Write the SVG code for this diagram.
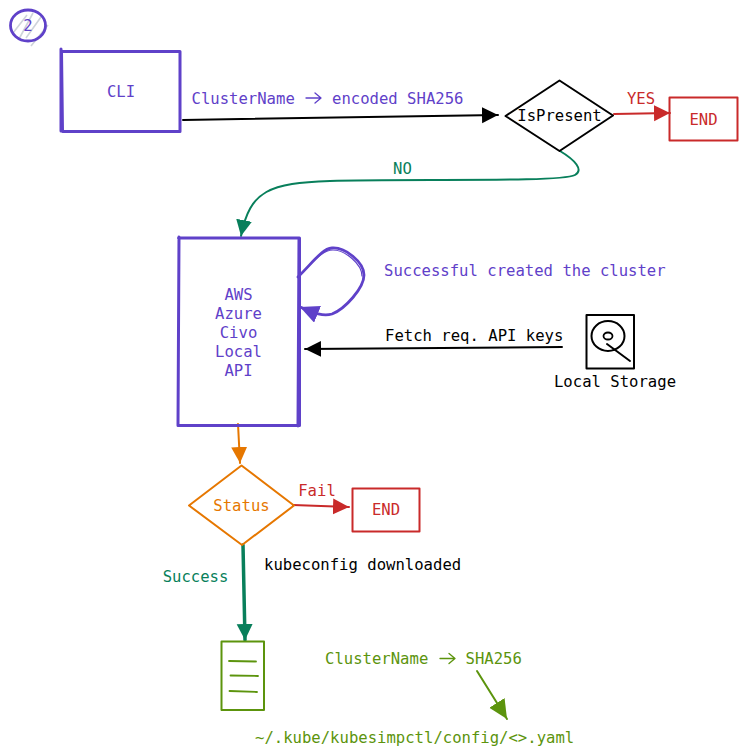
<svg xmlns="http://www.w3.org/2000/svg" width="746" height="756" viewBox="0 0 746 756">
<style>
text{font-family:"DejaVu Sans Mono","Liberation Mono",monospace;font-size:15.6px;text-anchor:middle}
.s{text-anchor:start}
.p{fill:#5f41c9}.k{fill:#000}.r{fill:#c92a2a}.o{fill:#e67700}.g{fill:#087f5b}.l{fill:#5c940d}
.sp,.sk,.sr,.so,.sg,.sl{fill:none;stroke-linecap:round;stroke-linejoin:round}
.sp{stroke:#5f41c9}.sk{stroke:#000}.sr{stroke:#c92a2a}.so{stroke:#e67700}.sg{stroke:#087f5b}.sl{stroke:#5c940d}
</style>
<defs>
<marker id="ak" markerUnits="userSpaceOnUse" markerWidth="20" markerHeight="20" refX="16" refY="8" orient="auto"><path d="M0 0L16 8L0 16Z" fill="#000"/></marker>
<marker id="ar" markerUnits="userSpaceOnUse" markerWidth="20" markerHeight="20" refX="16" refY="8" orient="auto"><path d="M0 0L16 8L0 16Z" fill="#c92a2a"/></marker>
<marker id="ao" markerUnits="userSpaceOnUse" markerWidth="20" markerHeight="20" refX="16" refY="8" orient="auto"><path d="M0 0L16 8L0 16Z" fill="#e67700"/></marker>
<marker id="ag" markerUnits="userSpaceOnUse" markerWidth="20" markerHeight="20" refX="16" refY="8" orient="auto"><path d="M0 0L16 8L0 16Z" fill="#087f5b"/></marker>
<marker id="al" markerUnits="userSpaceOnUse" markerWidth="22" markerHeight="22" refX="19" refY="9" orient="auto"><path d="M0 0L19 9L0 18Z" fill="#5c940d"/></marker>
<marker id="ap" markerUnits="userSpaceOnUse" markerWidth="22" markerHeight="22" refX="19" refY="9" orient="auto"><path d="M0 0L19 9L0 18Z" fill="#5f41c9"/></marker>
</defs>
<g id="step-badge">
<path d="M13 33L27 15M19 39L33 13M26 38L41 17M31 46L48 25" fill="none" stroke="#ced4da" stroke-width="1.600"/>
<ellipse cx="28" cy="25.500" rx="17.500" ry="15.500" class="sp" stroke-width="2.800"/>
<text x="28" y="31" class="p">2</text>
</g>
<g id="connectors">
<path d="M183 120L498 115" class="sk" stroke-width="2" marker-end="url(#ak)"/>
<path d="M614 114L670 113" class="sr" stroke-width="2" marker-end="url(#ar)"/>
<path d="M560 151C575 160 584 170 575 175C560 183 400 178 330 181C270 183 250 190 241 236" class="sg" stroke-width="2" marker-end="url(#ag)"/>
<path d="M298 277C315 260 322 249 332 248C345 247 364 262 364 275C364 288 345 309 332 314C322 317 312 312 300 307" class="sp" stroke-width="2.800" marker-end="url(#ap)"/>
<path d="M299 276C316 258 324 250 333 250C345 250 362 264 362 276" class="sp" stroke-width="1.200"/>
<path d="M562 347L305 349" class="sk" stroke-width="2" marker-end="url(#ak)"/>
<path d="M238 424L240 463" class="so" stroke-width="2" marker-end="url(#ao)"/>
<path d="M293 505L349 507" class="sr" stroke-width="2" marker-end="url(#ar)"/>
<path d="M243 545L245 640" class="sg" stroke-width="3.500" marker-end="url(#ag)"/>
<path d="M477 671L507 719" class="sl" stroke-width="2" marker-end="url(#al)"/>
</g>
<g id="cli">
<path d="M61.500 51.500H180V131.500H62.500ZM61 49V131" class="sp" stroke-width="3"/>
<text x="121" y="97" class="p">CLI</text>
</g>
<g id="cluster-name-label">
<text x="191.500" y="104" class="p s">ClusterName</text>
<path d="M306 98H320M315 93L321 98L315 103" class="sp" stroke-width="1.300"/>
<text x="332" y="104" class="p s">encoded SHA256</text>
</g>
<g id="is-present">
<path d="M559.500 80.500L613 115.500L559.500 151L505.500 116Z" class="sk" stroke-width="2"/>
<text x="559.500" y="121" class="k">IsPresent</text>
</g>
<g id="yes-label"><text x="641" y="104" class="r">YES</text></g>
<g id="end-top">
<rect x="669.500" y="97.500" width="68" height="43" class="sr" stroke-width="2"/>
<text x="703.500" y="125" class="r">END</text>
</g>
<g id="no-label"><text x="402.500" y="174" class="g">NO</text></g>
<g id="providers">
<path d="M178.500 238H299.500V425.500H178L179 237M299 238L298 426" class="sp" stroke-width="3"/>
<text class="p"><tspan x="238.500" y="300">AWS</tspan><tspan x="238.500" y="319">Azure</tspan><tspan x="238.500" y="338">Civo</tspan><tspan x="238.500" y="357">Local</tspan><tspan x="238.500" y="376">API</tspan></text>
</g>
<g id="created-label"><text x="384" y="276" class="p s">Successful created the cluster</text></g>
<g id="fetch-label"><text x="385" y="341" class="k s">Fetch req. API keys</text></g>
<g id="local-storage">
<rect x="586.500" y="315" width="47.500" height="53.500" class="sk" stroke-width="2"/>
<ellipse cx="608" cy="336" rx="16.500" ry="15" class="sk" stroke-width="2"/>
<ellipse cx="608" cy="336" rx="4.500" ry="3.500" class="sk" stroke-width="1.800"/>
<path d="M607 344L630 361" class="sk" stroke-width="2"/>
<text x="615" y="387" class="k">Local Storage</text>
</g>
<g id="status">
<path d="M241.500 465.500L294 505.500L242 545L189 505.500Z" class="so" stroke-width="2"/>
<text x="241.500" y="511" class="o">Status</text>
</g>
<g id="fail-label"><text x="317" y="496" class="r">Fail</text></g>
<g id="end-bottom">
<rect x="352.500" y="488.500" width="67" height="43" class="sr" stroke-width="2"/>
<text x="386" y="515" class="r">END</text>
</g>
<g id="success-label"><text x="195.500" y="582" class="g">Success</text></g>
<g id="kubeconfig-label"><text x="264" y="569.500" class="k s">kubeconfig downloaded</text></g>
<g id="document">
<rect x="221.500" y="641.500" width="42.500" height="68.500" class="sl" stroke-width="2"/>
<path d="M229 661L256 661.500M230.500 675.500L258 676M229.500 691L257 692" class="sl" stroke-width="1.800"/>
</g>
<g id="sha-label">
<text x="325" y="664" class="l s">ClusterName</text>
<path d="M440 658.500H454M449 653.500L455 658.500L449 663.500" class="sl" stroke-width="1.300"/>
<text x="465.500" y="664" class="l s">SHA256</text>
</g>
<g id="path-label"><text x="255" y="743" class="l s">~/.kube/kubesimpctl/config/&lt;&gt;.yaml</text></g>
</svg>
